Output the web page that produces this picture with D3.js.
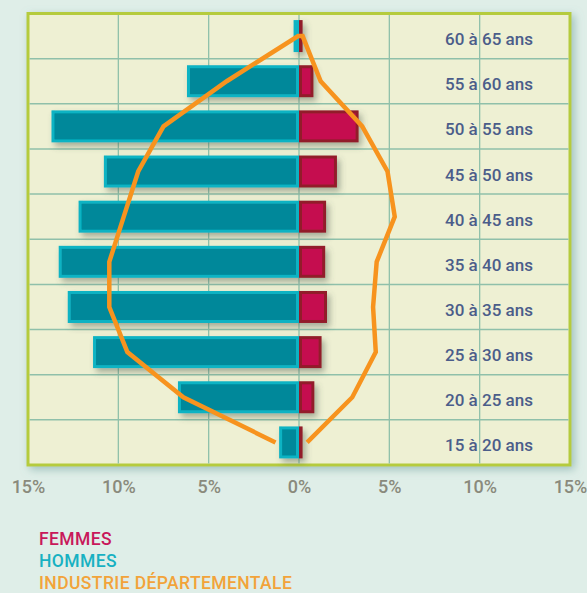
<!DOCTYPE html>
<html>
<head>
<meta charset="utf-8">
<script src="https://cdn.jsdelivr.net/npm/d3@7"></script>
<style>
html,body{margin:0;padding:0;background:#dfeee8;}
svg{display:block;}
text{font-family:Roboto,"DejaVu Sans",sans-serif;}
</style>
</head>
<body>
<svg id="chart" width="587" height="593"></svg>
<script>
// ---- data ----
const ages = ["60 à 65 ans","55 à 60 ans","50 à 55 ans","45 à 50 ans","40 à 45 ans","35 à 40 ans","30 à 35 ans","25 à 30 ans","20 à 25 ans","15 à 20 ans"];
const hommes = [0.3, 6.2, 13.7, 10.8, 12.2, 13.3, 12.8, 11.4, 6.7, 1.1];
const femmes = [0.2, 0.8, 3.3, 2.1, 1.5, 1.45, 1.55, 1.25, 0.85, 0.2];
const industrieHommes = [0.05, 4.0, 7.5, 8.9, 9.7, 10.5, 10.5, 9.5, 6.4, 1.3];
const industrieFemmes = [0.2, 1.2, 3.5, 4.9, 5.3, 4.3, 4.1, 4.25, 2.95, 0.45];
const tickValues = [-15, -10, -5, 0, 5, 10, 15];
const tickLabels = ["15%", "10%", "5%", "0%", "5%", "10%", "15%"];
const legendLabels = ["FEMMES", "HOMMES", "INDUSTRIE DÉPARTEMENTALE"];
const legendColors = ["#c8185a", "#17b1c2", "#f2a33a"];

// ---- layout ----
const svg = d3.select("#chart");
const pLeft = 28, pRight = 570, pTop = 13.5, pBottom = 465;
const x = d3.scaleLinear().domain([-15, 15]).range([pLeft, pRight]);
const y = d3.scaleBand().domain(ages).range([pTop, pBottom]).padding(0);
const barH = 32;

const defs = svg.append("defs");
const fs = defs.append("filter").attr("id","frameShadow").attr("x","-5%").attr("y","-5%").attr("width","110%").attr("height","110%");
fs.append("feDropShadow").attr("dx",3).attr("dy",3).attr("stdDeviation",4).attr("flood-color","#6a9c98").attr("flood-opacity",0.55);
const bs = defs.append("filter").attr("id","barShadow").attr("x","-20%").attr("y","-30%").attr("width","140%").attr("height","180%");
bs.append("feDropShadow").attr("dx",3).attr("dy",4).attr("stdDeviation",3).attr("flood-color","#4a5a50").attr("flood-opacity",0.45);

// plot background + frame
svg.append("rect").attr("x", pLeft).attr("y", pTop).attr("width", pRight-pLeft).attr("height", pBottom-pTop)
  .attr("fill", "#eef0d3").attr("stroke","#b5cb3c").attr("stroke-width",3).attr("filter","url(#frameShadow)");

// grid
const grid = svg.append("g");
grid.selectAll("line.v").data(tickValues.slice(1,-1)).join("line")
  .attr("x1", d=>x(d)).attr("x2", d=>x(d)).attr("y1", pTop+1.5).attr("y2", pBottom-1.5)
  .attr("stroke","#8fc0aa").attr("stroke-width",1.3);
grid.selectAll("line.h").data(ages.slice(1)).join("line")
  .attr("x1", pLeft+1.5).attr("x2", pRight-1.5).attr("y1", d=>y(d)).attr("y2", d=>y(d))
  .attr("stroke","#8fc0aa").attr("stroke-width",1.5);

// bars
const bars = svg.append("g").attr("filter","url(#barShadow)");
const sw = 3;
bars.selectAll("rect.h").data(ages).join("rect")
  .attr("x", (d,i)=>x(-hommes[i]) + sw/2)
  .attr("y", d=>y(d) + y.bandwidth()/2 - barH/2 + sw/2)
  .attr("width", (d,i)=>Math.max(0, x(0)-x(-hommes[i]) - sw))
  .attr("height", barH - sw)
  .attr("fill","#00889a").attr("stroke","#0bb3c3").attr("stroke-width",sw);
bars.selectAll("rect.f").data(ages).join("rect")
  .attr("x", x(0) + sw/2)
  .attr("y", d=>y(d) + y.bandwidth()/2 - barH/2 + sw/2)
  .attr("width", (d,i)=>Math.max(0.5, x(femmes[i])-x(0) - sw))
  .attr("height", barH - sw)
  .attr("fill","#c50f50").attr("stroke","#921c2a").attr("stroke-width",sw);

// industrie line
const pts = [];
for (let i = ages.length-1; i >= 0; i--) pts.push([x(-industrieHommes[i]), y(ages[i]) + y.bandwidth()/2]);
for (let i = 0; i < ages.length; i++) pts.push([x(industrieFemmes[i]), y(ages[i]) + y.bandwidth()/2]);
svg.append("path").attr("d", d3.line()(pts))
  .attr("fill","none").attr("stroke","#f7931e").attr("stroke-width",4.5).attr("stroke-linejoin","miter");

// row labels
svg.append("g").selectAll("text").data(ages).join("text")
  .attr("x", 489).attr("y", d=>y(d) + y.bandwidth()/2 + 9)
  .attr("text-anchor","middle").attr("font-size",17).attr("font-weight",500)
  .attr("fill","#4b5d8a").text(d=>d);

// x axis labels
const xAxis = d3.axisBottom(x).tickValues(tickValues).tickSize(0).tickPadding(0)
  .tickFormat((d,i)=>tickLabels[i]);
const ax = svg.append("g").attr("transform", `translate(0, ${pBottom})`).call(xAxis);
ax.select(".domain").remove();
ax.selectAll("text").attr("y", 28).attr("dy", 0).attr("font-size",18).attr("font-weight",500)
  .attr("fill","#8a8a7c").style("font-family","Roboto, sans-serif");

// legend
svg.append("g").selectAll("text").data(legendLabels).join("text")
  .attr("x", 39).attr("y", (d,i)=>545 + i*22)
  .attr("font-size",17.5).attr("font-weight",500).attr("letter-spacing",0.4)
  .attr("fill",(d,i)=>legendColors[i]).text(d=>d);
</script>
</body>
</html>
